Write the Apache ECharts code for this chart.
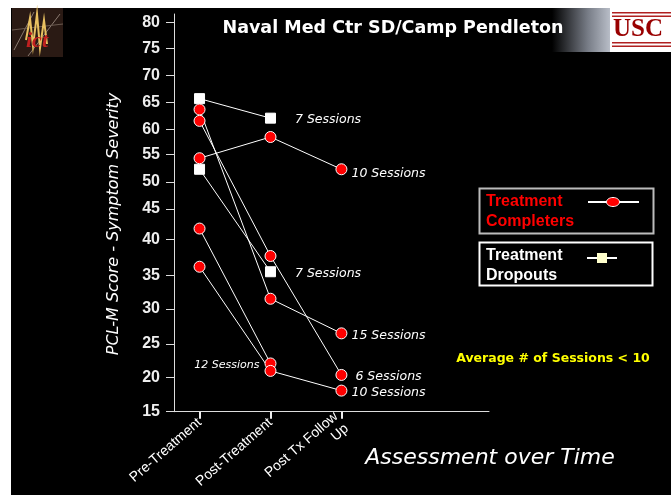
<!DOCTYPE html>
<html>
<head>
<meta charset="utf-8">
<script src="https://cdn.jsdelivr.net/npm/echarts@6/dist/echarts.min.js"></script>
<style>
html, body { margin: 0; padding: 0; background: #fff; }
#chart1 { width: 671px; height: 495px; }
</style>
</head>
<body>
<div id="chart1"></div>
<script>
// categories on the time axis
var categories = ['Pre-Treatment', 'Post-Treatment', 'Post Tx Follow\nUp'];

// PCL-M scores, one row per patient (null = no measurement)
var completerScores = [
	[54.3, 58.5, 52.3],
	[63.7, 31.5, 26.5],
	[61.6, 37.7, 20.4],
	[41.8, 22.1, null],
	[36.2, 21.0, 18.1]
];
var completerSessions = ['10 Sessions', '15 Sessions', '6 Sessions', '12 Sessions', '10 Sessions'];

var dropoutScores = [
	[65.7, 62.1, null],
	[52.3, 35.5, null]
];
var dropoutSessions = ['7 Sessions', '7 Sessions'];

// the slide's y axis is not evenly spaced: tick values and their height above the x axis
var yTickValues = [15, 20, 25, 30, 35, 40, 45, 50, 55, 60, 65, 70, 75, 80];
var yTickHeights = [0, 34.3, 68.3, 103.6, 137.3, 173.3, 204, 231.3, 259, 284, 311.3, 338.6, 365.8, 391.8];

// score -> axis units (piecewise between labelled ticks)
function toAxis(v) {
	for (var i = 0; i < yTickValues.length - 1; i++) {
		if (v <= yTickValues[i + 1]) {
			var t = (v - yTickValues[i]) / (yTickValues[i + 1] - yTickValues[i]);
			return yTickHeights[i] + t * (yTickHeights[i + 1] - yTickHeights[i]);
		}
	}
	return yTickHeights[yTickHeights.length - 1];
}

// label placement for the session notes
var completerLabelPos = [
	{ position: 'right', distance: 4, offset: [0, 4] },
	{ position: 'right', distance: 4, offset: [0, 2] },
	{ position: 'right', distance: 8, offset: [0, 2] },
	{ position: 'left', distance: 5, offset: [0, 2], fontSize: 11 },
	{ position: 'right', distance: 4, offset: [0, 2] }
];
var dropoutLabelPos = [
	{ position: 'right', distance: 19, offset: [0, 2] },
	{ position: 'right', distance: 19, offset: [0, 2] }
];

function buildSeries(scores, sessions, labelPos, symbol, size, color) {
	return scores.map(function (row, k) {
		var pts = [];
		row.forEach(function (v, i) {
			if (v !== null) pts.push([i, toAxis(v)]);
		});
		var data = pts.map(function (p, j) {
			if (j < pts.length - 1) return p;
			var lp = labelPos[k];
			return {
				value: p,
				label: {
					show: true,
					formatter: sessions[k],
					position: lp.position,
					distance: lp.distance,
					offset: lp.offset,
					color: '#fff',
					fontStyle: 'italic',
					fontFamily: 'DejaVu Sans',
					fontSize: lp.fontSize || 12.5
				}
			};
		});
		return {
			type: 'line',
			data: data,
			symbol: symbol,
			symbolSize: size,
			lineStyle: { color: '#fff', width: 1 },
			itemStyle: { color: color, borderColor: '#fff', borderWidth: 1 },
			z: symbol === 'rect' ? 3 : 4,
			silent: true
		};
	});
}

var myChart = echarts.init(document.getElementById('chart1'));

var series = buildSeries(dropoutScores, dropoutSessions, dropoutLabelPos, 'rect', 10, '#fff')
	.concat(buildSeries(completerScores, completerSessions, completerLabelPos, 'circle', 11, '#ff0000'));

var option = {
	animation: false,
	backgroundColor: '#fff',
	grid: { left: 174, right: 182, top: 14, bottom: 80.7 },
	xAxis: {
		type: 'value',
		min: -0.36,
		max: 4.08,
		axisLine: { show: true, onZero: false, lineStyle: { color: '#ddd', width: 1 } },
		axisTick: { show: true, length: 7, customValues: [0, 1, 2], lineStyle: { color: '#eee', width: 2 } },
		axisLabel: {
			customValues: [0, 1, 2],
			rotate: 41,
			margin: 9,
			color: '#fff',
			fontFamily: 'Liberation Sans',
			fontSize: 14,
			lineHeight: 16,
			formatter: function (v) { return categories[Math.round(v)]; }
		},
		splitLine: { show: false }
	},
	yAxis: {
		type: 'value',
		min: 0,
		max: 400.3,
		axisLine: { show: true, onZero: false, lineStyle: { color: '#ddd', width: 1 } },
		axisTick: { show: true, length: 8, customValues: yTickHeights, lineStyle: { color: '#ddd', width: 1 } },
		axisLabel: {
			customValues: yTickHeights,
			margin: 14,
			color: '#eee',
			fontFamily: 'Liberation Sans',
			fontWeight: 'bold',
			fontSize: 16,
			formatter: function (v) {
				var best = 0;
				for (var i = 1; i < yTickHeights.length; i++) {
					if (Math.abs(yTickHeights[i] - v) < Math.abs(yTickHeights[best] - v)) best = i;
				}
				return yTickValues[best];
			}
		},
		splitLine: { show: false }
	},
	graphic: [
		// slide background
		{ type: 'rect', shape: { x: 11, y: 8, width: 660, height: 487 }, style: { fill: '#000' }, z: -10, silent: true },
		// ict logo
		{ type: 'rect', shape: { x: 12, y: 8, width: 51, height: 49 }, style: { fill: '#2a1a14' }, z: -5, silent: true },
		{ type: 'polyline', shape: { points: [[14, 50], [34, 12]] }, style: { stroke: '#8a7a70', lineWidth: 1 }, z: -4, silent: true },
		{ type: 'polyline', shape: { points: [[28, 56], [60, 14]] }, style: { stroke: '#8a7a70', lineWidth: 1 }, z: -4, silent: true },
		{ type: 'polyline', shape: { points: [[12, 30], [63, 24]] }, style: { stroke: '#6a5a50', lineWidth: 1 }, z: -4, silent: true },
		{ type: 'polyline', shape: { points: [[26, 40], [30, 18], [33, 46], [37, 14], [40, 48], [44, 20], [47, 44]] }, style: { stroke: '#e8c060', lineWidth: 2 }, z: -3, silent: true },
		{ type: 'text', style: { x: 37, y: 41, text: 'ict', fill: '#c02020', font: 'italic bold 22px "Liberation Serif"', align: 'center', verticalAlign: 'middle' }, z: -2, silent: true },
		// grey streak and USC box top right
		{
			type: 'rect', shape: { x: 552, y: 8, width: 60, height: 44 }, silent: true, z: -5,
			style: {
				fill: new echarts.graphic.LinearGradient(0, 0, 1, 0, [
					{ offset: 0, color: 'rgba(0,0,0,1)' },
					{ offset: 0.6, color: 'rgba(120,125,135,1)' },
					{ offset: 1, color: 'rgba(190,195,205,1)' }
				])
			}
		},
		{ type: 'rect', shape: { x: 610, y: 8, width: 61, height: 44 }, style: { fill: '#fff' }, z: -4, silent: true },
		{ type: 'rect', shape: { x: 612, y: 12, width: 59, height: 1.5 }, style: { fill: '#b02020' }, silent: true },
		{ type: 'rect', shape: { x: 612, y: 15.5, width: 59, height: 1.5 }, style: { fill: '#b02020' }, silent: true },
		{ type: 'rect', shape: { x: 612, y: 42, width: 59, height: 1.5 }, style: { fill: '#b02020' }, silent: true },
		{ type: 'rect', shape: { x: 612, y: 45.5, width: 59, height: 1.5 }, style: { fill: '#b02020' }, silent: true },
		{ type: 'text', style: { x: 638, y: 30, text: 'USC', fill: '#990000', font: 'bold 25px "Liberation Serif"', align: 'center', verticalAlign: 'middle' }, silent: true },
		// title
		{ type: 'text', style: { x: 393, y: 28, text: 'Naval Med Ctr SD/Camp Pendleton', fill: '#fff', font: 'bold 17.5px "DejaVu Sans"', align: 'center', verticalAlign: 'middle' }, silent: true },
		// axis titles
		{ type: 'text', rotation: Math.PI / 2, x: 114, y: 224, style: { x: 0, y: 0, text: 'PCL-M Score - Symptom Severity', fill: '#fff', font: 'italic 16px "DejaVu Sans"', align: 'center', verticalAlign: 'middle' }, silent: true },
		{ type: 'text', style: { x: 490, y: 458, text: 'Assessment over Time', fill: '#fff', font: 'italic 22px "DejaVu Sans"', align: 'center', verticalAlign: 'middle' }, silent: true },
		// legend: completers
		{ type: 'rect', shape: { x: 479.5, y: 188.5, width: 174, height: 45 }, style: { fill: 'none', stroke: '#bbb', lineWidth: 2 }, silent: true },
		{ type: 'text', style: { x: 486, y: 212, text: 'Treatment\nCompleters', fill: '#ff0000', font: 'bold 16px "Liberation Sans"', lineHeight: 20, verticalAlign: 'middle' }, silent: true },
		{ type: 'line', shape: { x1: 588, y1: 202, x2: 639, y2: 202 }, style: { stroke: '#fff', lineWidth: 2 }, silent: true },
		{ type: 'ellipse', shape: { cx: 613, cy: 202, rx: 6.5, ry: 4.5 }, style: { fill: '#ff0000', stroke: '#fff', lineWidth: 1 }, silent: true },
		// legend: dropouts
		{ type: 'rect', shape: { x: 479.5, y: 242.5, width: 173, height: 43 }, style: { fill: 'none', stroke: '#fff', lineWidth: 2 }, silent: true },
		{ type: 'text', style: { x: 486, y: 266, text: 'Treatment\nDropouts', fill: '#fff', font: 'bold 16px "Liberation Sans"', lineHeight: 20, verticalAlign: 'middle' }, silent: true },
		{ type: 'line', shape: { x1: 587, y1: 258, x2: 617, y2: 258 }, style: { stroke: '#fff', lineWidth: 2 }, silent: true },
		{ type: 'rect', shape: { x: 597, y: 253, width: 10, height: 10 }, style: { fill: '#ffffcc' }, silent: true },
		// note
		{ type: 'text', style: { x: 553, y: 359, text: 'Average # of Sessions < 10', fill: '#ffff00', font: 'bold 12.5px "DejaVu Sans"', align: 'center', verticalAlign: 'middle' }, silent: true }
	],
	series: series
};

myChart.setOption(option);
</script>
</body>
</html>
